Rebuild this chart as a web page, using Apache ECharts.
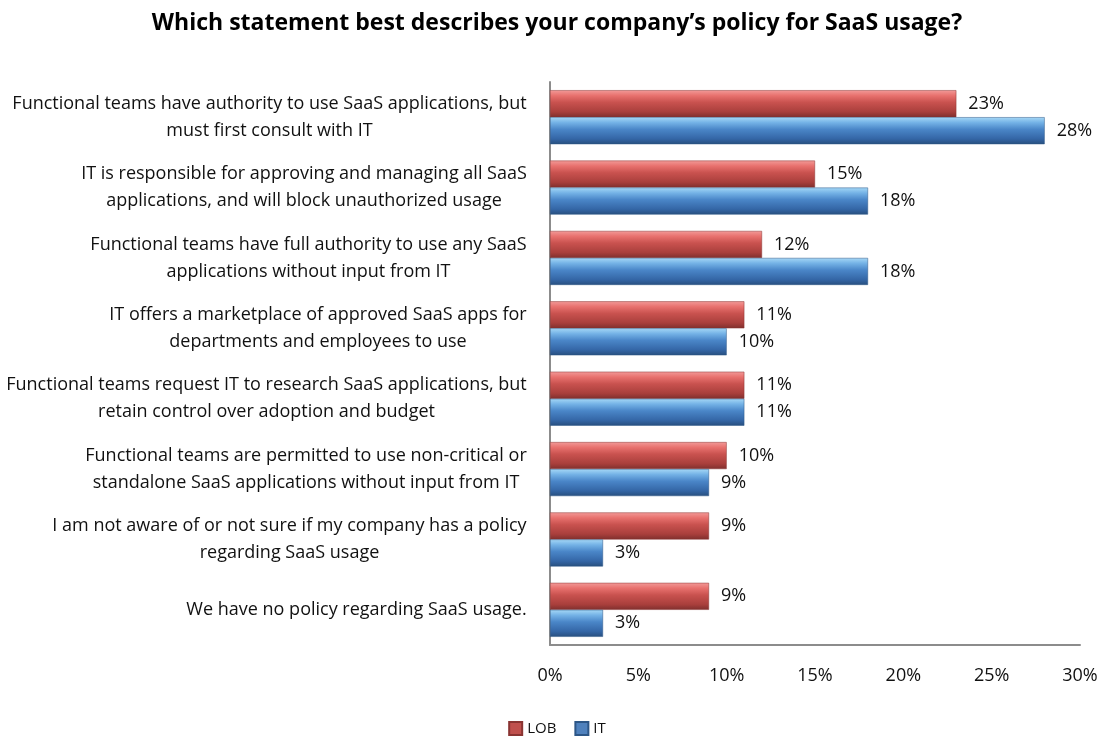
<!DOCTYPE html>
<html><head><meta charset="utf-8">
<script src="https://cdn.jsdelivr.net/npm/echarts@6/dist/echarts.min.js"></script>
<style>html,body{margin:0;padding:0;background:#fff}#c{width:1114px;height:736px}</style>
</head><body><div id="c"></div>
<script>
var categories = [
  "Functional teams have authority to use SaaS applications, but\nmust first consult with IT",
  "IT is responsible for approving and managing all SaaS\napplications, and will block unauthorized usage",
  "Functional teams have full authority to use any SaaS\napplications without input from IT",
  "IT offers a marketplace of approved SaaS apps for\ndepartments and employees to use",
  "Functional teams request IT to research SaaS applications, but\nretain control over adoption and budget",
  "Functional teams are permitted to use non-critical or\nstandalone SaaS applications without input from IT",
  "I am not aware of or not sure if my company has a policy\nregarding SaaS usage",
  "We have no policy regarding SaaS usage."
];
var lobValues = [23, 15, 12, 11, 11, 10, 9, 9];
var itValues = [28, 18, 18, 10, 11, 9, 3, 3];
var xTicks = [0, 5, 10, 15, 20, 25, 30];

var FONT = '"Open Sans", sans-serif';
var LBL_SIZE = 18;
var TXT = '#111';
var cv = document.createElement('canvas').getContext('2d');
cv.font = LBL_SIZE + 'px "Open Sans"';
var rich = {};
categories.forEach(function (c, i) {
  var w = Math.max.apply(null, c.split('\n').map(function (l) { return cv.measureText(l).width; }));
  rich['r' + i] = { width: Math.ceil(w) + 2, align: 'center', fontSize: LBL_SIZE, fontFamily: FONT, color: TXT, lineHeight: 27 };
});

function grad(stops) {
  return new echarts.graphic.LinearGradient(0, 0, 0, 1, stops.map(function (s) { return { offset: s[0], color: s[1] }; }));
}

var chart = echarts.init(document.getElementById('c'), null, { renderer: 'canvas' });
chart.setOption({
  animation: false,
  title: {
    text: 'Which statement best describes your company’s policy for SaaS usage?',
    left: 'center', top: 7,
    textStyle: { fontFamily: FONT, fontWeight: 'bold', fontSize: 23, color: '#000' }
  },
  legend: {
    top: 716, left: 'center',
    itemWidth: 13, itemHeight: 13, itemGap: 18, icon: 'rect',
    textStyle: { fontFamily: FONT, fontSize: 15, color: TXT },
    data: [
      { name: 'LOB', itemStyle: { color: '#c0504d' } },
      { name: 'IT', itemStyle: { color: '#4f81bd' } }
    ]
  },
  grid: { left: 550, right: 34, top: 82, bottom: 91, containLabel: false },
  xAxis: {
    type: 'value', min: 0, max: 30, interval: 5,
    axisLine: { show: true, lineStyle: { color: '#8c8c8c', width: 2 } },
    axisTick: { show: false },
    splitLine: { show: false },
    axisLabel: {
      margin: 22, fontFamily: FONT, fontSize: LBL_SIZE, color: TXT,
      formatter: function (v) { return xTicks.indexOf(v) >= 0 ? v + '%' : ''; }
    }
  },
  yAxis: {
    type: 'category', inverse: true, data: categories,
    axisLine: { show: true, lineStyle: { color: '#8c8c8c', width: 2 } },
    axisTick: { show: false },
    axisLabel: {
      margin: 22, interval: 0,
      formatter: function (v, i) {
        return v.split('\n').map(function (l) { return '{r' + i + '|' + l + '}'; }).join('\n');
      },
      rich: rich
    }
  },
  series: [
    {
      name: 'LOB', type: 'bar', data: lobValues, barWidth: 27, barGap: '0%',
      itemStyle: {
        color: grad([[0, '#f29a98'], [0.2, '#e8716e'], [0.45, '#c9524f'], [0.8, '#a93f3c'], [1, '#7f2f2d']]),
        borderColor: '#8a3432', borderWidth: 0.5
      },
      label: { show: true, position: 'right', distance: 12, formatter: '{c}%', fontFamily: FONT, fontSize: LBL_SIZE, color: TXT }
    },
    {
      name: 'IT', type: 'bar', data: itValues, barWidth: 27, barGap: '0%',
      itemStyle: {
        color: grad([[0, '#a6d8f6'], [0.2, '#74b2e6'], [0.45, '#4a86c8'], [0.8, '#3466a6'], [1, '#284f7e']]),
        borderColor: '#2c5687', borderWidth: 0.5
      },
      label: { show: true, position: 'right', distance: 12, formatter: '{c}%', fontFamily: FONT, fontSize: LBL_SIZE, color: TXT }
    }
  ]
});
</script></body></html>
